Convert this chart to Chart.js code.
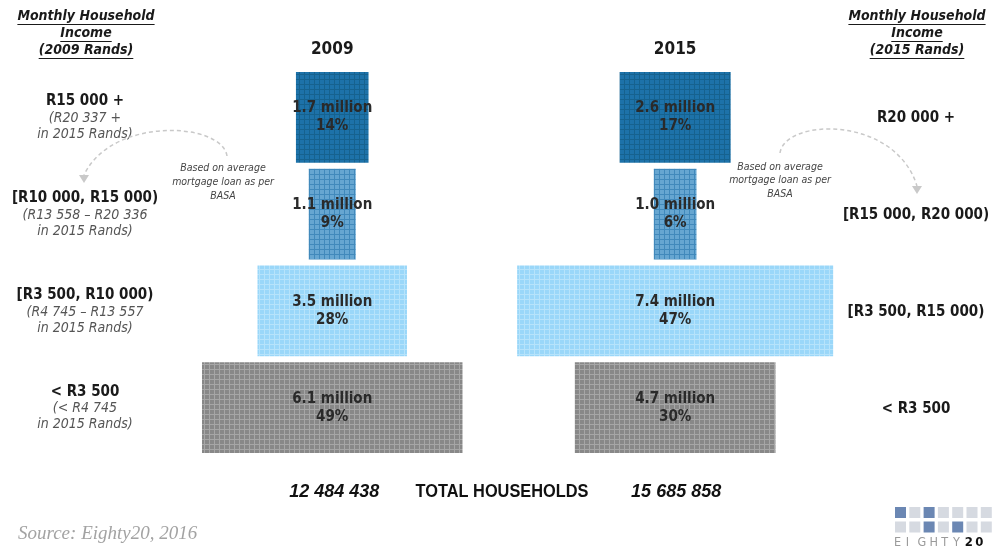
<!DOCTYPE html>
<html>
<head>
<meta charset="utf-8">
<script src="https://cdn.jsdelivr.net/npm/chart.js@4/dist/chart.umd.min.js"></script>
<style>
  html, body { margin: 0; padding: 0; background: #fff; }
  #wrap { width: 995px; height: 548px; position: relative; }
</style>
</head>
<body>
<div id="wrap"><canvas id="pyramid"></canvas></div>
<script>
// income bands, top to bottom
const bands2009 = ["R15 000 +", "[R10 000, R15 000)", "[R3 500, R10 000)", "< R3 500"];
const bandNotes2009 = [
  ["(R20 337 +", "in 2015 Rands)"],
  ["(R13 558 \u2013 R20 336", "in 2015 Rands)"],
  ["(R4 745 \u2013 R13 557", "in 2015 Rands)"],
  ["(< R4 745", "in 2015 Rands)"]
];
const bands2015 = ["R20 000 +", "[R15 000, R20 000)", "[R3 500, R15 000)", "< R3 500"];

// households (millions) and share of total
const households2009 = [1.7, 1.1, 3.5, 6.1];
const households2015 = [2.6, 1.0, 7.4, 4.7];
const share2009 = [14, 9, 28, 49];
const share2015 = [17, 6, 47, 30];
const years = ["2009", "2015"];
const totals = ["12 484 438", "15 685 858"];

// where each pyramid is centred on the x scale (millions)
const MID_2009 = 7.78;
const MID_2015 = 15.81;
const X_MAX = 23.3;

const FONT = '"DejaVu Sans Condensed", "DejaVu Sans", sans-serif';

// small mesh texture used for the bars
function mesh(cell, line) {
  const c = document.createElement("canvas");
  c.width = 5; c.height = 5;
  const g = c.getContext("2d");
  g.fillStyle = line;
  g.fillRect(0, 0, 5, 5);
  g.fillStyle = cell;
  g.fillRect(0, 0, 4, 4);
  return g.createPattern(c, "repeat");
}
const rowFills = [
  mesh("#1d72a9", "#16628f"),
  mesh("#66a6d1", "#4189bb"),
  mesh("#9ad7f9", "#b6e3fb"),
  mesh("#888888", "#a6a6a6")
];

function centred(values, mid) {
  return values.map(v => [mid - v / 2, mid + v / 2]);
}

function text(ctx, str, x, y, font, color, align) {
  ctx.font = font;
  ctx.fillStyle = color;
  ctx.textAlign = align || "center";
  ctx.textBaseline = "middle";
  ctx.fillText(str, x, y);
}

// horizontally squeezed text, stands in for a narrow face
function narrowText(ctx, str, x, y, font, color, squeeze) {
  ctx.save();
  ctx.translate(x, y);
  ctx.scale(squeeze, 1);
  text(ctx, str, 0, 0, font, color);
  ctx.restore();
}

function underlined(ctx, str, x, y, font, color) {
  text(ctx, str, x, y, font, color);
  const w = ctx.measureText(str).width;
  ctx.strokeStyle = color;
  ctx.lineWidth = 1;
  ctx.beginPath();
  ctx.moveTo(x - w / 2, y + 8.5);
  ctx.lineTo(x + w / 2, y + 8.5);
  ctx.stroke();
}

function dashedArrow(ctx, p0, c1, c2, p1) {
  ctx.save();
  ctx.strokeStyle = "#c9c9c9";
  ctx.fillStyle = "#c9c9c9";
  ctx.lineWidth = 1.5;
  ctx.setLineDash([4, 3]);
  ctx.beginPath();
  ctx.moveTo(p0[0], p0[1]);
  ctx.bezierCurveTo(c1[0], c1[1], c2[0], c2[1], p1[0], p1[1]);
  ctx.stroke();
  ctx.setLineDash([]);
  ctx.beginPath();
  ctx.moveTo(p1[0] - 5, p1[1]);
  ctx.lineTo(p1[0] + 5, p1[1]);
  ctx.lineTo(p1[0], p1[1] + 8);
  ctx.closePath();
  ctx.fill();
  ctx.restore();
}

const barLabels = {
  id: "barLabels",
  afterDatasetsDraw(chart) {
    const ctx = chart.ctx;
    const shares = [share2009, share2015];
    chart.data.datasets.forEach((ds, di) => {
      chart.getDatasetMeta(di).data.forEach((bar, i) => {
        const cx = (bar.x + bar.base) / 2;
        const v = ds.data[i][1] - ds.data[i][0];
        text(ctx, v.toFixed(1) + " million", cx, bar.y - 9, "bold 15px " + FONT, "#2a2a2a");
        text(ctx, shares[di][i] + "%", cx, bar.y + 9, "bold 15px " + FONT, "#2a2a2a");
      });
    });
  }
};

const decorations = {
  id: "decorations",
  afterDraw(chart) {
    const ctx = chart.ctx;
    const y = chart.scales.y;
    const xs = chart.scales.x;
    const headFont = "italic bold 14px " + FONT;

    underlined(ctx, "Monthly Household", 86, 16, headFont, "#1a1a1a");
    underlined(ctx, "Income", 86, 33, headFont, "#1a1a1a");
    underlined(ctx, "(2009 Rands)", 86, 50, headFont, "#1a1a1a");
    underlined(ctx, "Monthly Household", 917, 16, headFont, "#1a1a1a");
    underlined(ctx, "Income", 917, 33, headFont, "#1a1a1a");
    underlined(ctx, "(2015 Rands)", 917, 50, headFont, "#1a1a1a");

    text(ctx, years[0], xs.getPixelForValue(MID_2009), 50, "bold 17px " + FONT, "#1a1a1a");
    text(ctx, years[1], xs.getPixelForValue(MID_2015), 50, "bold 17px " + FONT, "#1a1a1a");

    bands2009.forEach((b, i) => {
      const cy = y.getPixelForValue(i);
      text(ctx, b, 85, cy - 16, "bold 15px " + FONT, "#1a1a1a");
      text(ctx, bandNotes2009[i][0], 85, cy + 1, "italic 14px " + FONT, "#555");
      text(ctx, bandNotes2009[i][1], 85, cy + 17, "italic 14px " + FONT, "#555");
    });
    bands2015.forEach((b, i) => {
      const cy = y.getPixelForValue(i);
      text(ctx, b, 916, cy + 1, "bold 15px " + FONT, "#1a1a1a");
    });

    const noteFont = "italic 10.5px " + FONT;
    ["Based on average", "mortgage loan as per", "BASA"].forEach((s, k) => {
      text(ctx, s, 223, 168 + k * 14, noteFont, "#444");
      text(ctx, s, 780, 167 + k * 13.5, noteFont, "#444");
    });
    dashedArrow(ctx, [227, 156], [222, 122], [112, 116], [84, 175]);
    dashedArrow(ctx, [780, 153], [785, 118], [895, 115], [917, 186]);

    const sans = '"Liberation Sans", Arial, sans-serif';
    text(ctx, totals[0], xs.getPixelForValue(MID_2009) + 2, 492, "italic bold 18px " + sans, "#111");
    narrowText(ctx, "TOTAL HOUSEHOLDS", 502, 492, "bold 19px " + sans, "#111", 0.86);
    text(ctx, totals[1], xs.getPixelForValue(MID_2015) + 1, 492, "italic bold 18px " + sans, "#111");

    text(ctx, "Source: Eighty20, 2016", 18, 534, 'italic 19px "Liberation Serif", serif', "#a3a3a3", "left");

    // logo
    const grid = [[1, 0, 1, 0, 0, 0, 0], [0, 0, 1, 0, 1, 0, 0]];
    grid.forEach((row, r) => row.forEach((on, c) => {
      ctx.fillStyle = on ? "#6b87b3" : "#d6dae1";
      ctx.fillRect(895 + c * 14.3, 507 + r * 14.5, 11, 11);
    }));
    ctx.font = "12.5px " + FONT;
    ctx.textBaseline = "middle";
    ctx.textAlign = "left";
    let lx = 894;
    "EIGHTY".split("").forEach(ch => {
      ctx.fillStyle = "#9a9a9a";
      ctx.fillText(ch, lx, 543);
      lx += 11.8;
    });
    ctx.font = "bold 13px " + FONT;
    ctx.fillStyle = "#111";
    ctx.fillText("2", lx, 543);
    ctx.fillText("0", lx + 10.5, 543);
  }
};

new Chart(document.getElementById("pyramid"), {
  type: "bar",
  data: {
    labels: bands2009,
    datasets: [
      {
        label: years[0],
        data: centred(households2009, MID_2009),
        backgroundColor: rowFills,
        grouped: false,
        barPercentage: 0.94,
        categoryPercentage: 1
      },
      {
        label: years[1],
        data: centred(households2015, MID_2015),
        backgroundColor: rowFills,
        grouped: false,
        barPercentage: 0.94,
        categoryPercentage: 1
      }
    ]
  },
  options: {
    indexAxis: "y",
    responsive: true,
    maintainAspectRatio: false,
    animation: false,
    layout: { padding: { top: 69, bottom: 92, left: 0, right: 0 } },
    scales: {
      x: { display: false, min: 0, max: X_MAX },
      y: { display: false }
    },
    plugins: {
      legend: { display: false },
      tooltip: { enabled: false }
    }
  },
  plugins: [barLabels, decorations]
});
</script>
</body>
</html>
